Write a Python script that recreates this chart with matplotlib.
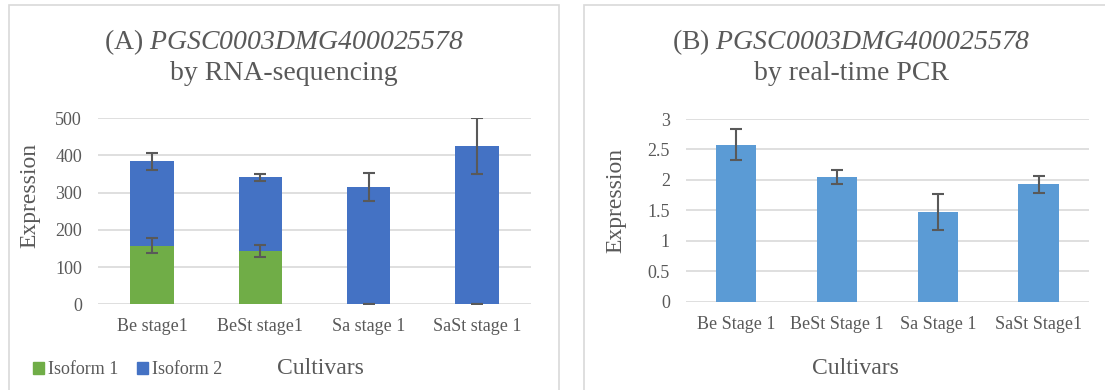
import matplotlib
matplotlib.use("Agg")
import matplotlib.pyplot as plt
from matplotlib.patches import Rectangle, Patch

plt.rcParams['font.family'] = ['Liberation Serif', 'DejaVu Serif']
# gene identifiers are set fully in italic, digits included
plt.rcParams['mathtext.fontset'] = 'custom'
plt.rcParams['mathtext.rm'] = 'Liberation Serif:italic'
plt.rcParams['mathtext.it'] = 'Liberation Serif:italic'

# Panel A: RNA-seq expression, two stacked isoforms
rna_cultivars = ["Be stage1", "BeSt stage1", "Sa stage 1", "SaSt stage 1"]
isoform1 = [158, 143, 0, 0]
isoform2 = [226, 198, 315, 426]
isoform1_err = [21, 16, 0, 0]
isoform2_err = [22, 9, 38, 76]

# Panel B: real-time PCR expression
pcr_cultivars = ["Be Stage 1", "BeSt Stage 1", "Sa Stage 1", "SaSt Stage1"]
pcr_values = [2.58, 2.05, 1.47, 1.93]
pcr_err = [0.26, 0.11, 0.30, 0.14]

GREEN = "#70AD47"
BLUE = "#4472C4"
LIGHT_BLUE = "#5B9BD5"
TEXT = "#595959"
GRID = "#D9D9D9"
ERR = "#595959"

W, H = 1105, 390
fig = plt.figure(figsize=(W / 100, H / 100), dpi=100)


def px_axes(x0, x1, ytop, ybot):
    return fig.add_axes([x0 / W, 1 - ybot / H, (x1 - x0) / W, (ybot - ytop) / H])


def style(ax, ymax, step, fmt):
    ax.set_xlim(-0.5, 3.5)
    ax.set_ylim(0, ymax)
    ticks = [i * step for i in range(int(round(ymax / step)) + 1)]
    ax.set_yticks(ticks)
    ax.set_yticklabels([fmt(t) for t in ticks])
    for s in ax.spines.values():
        s.set_visible(False)
    for t in ticks:
        ax.axhline(t, color=GRID, lw=1.2, zorder=0)
    ax.tick_params(axis='both', length=0, labelsize=13, colors=TEXT)
    ax.tick_params(axis='y', pad=11.5)
    ax.tick_params(axis='x', pad=10)
    ax.set_facecolor('none')


# panel frames
fig.add_artist(Rectangle((9 / W, -0.1), 550 / W, 1.1 - 5 / H, transform=fig.transFigure,
                         fill=False, edgecolor=GRID, lw=1.2))
fig.add_artist(Rectangle((584 / W, -0.1), 0.5, 1.1 - 5 / H, transform=fig.transFigure,
                         fill=False, edgecolor=GRID, lw=1.2))

# ---- Panel A ----
axA = px_axes(98, 531, 118.3, 304.3)
x = range(len(rna_cultivars))
stack_top = [a + b for a, b in zip(isoform1, isoform2)]
axA.bar(x, isoform1, width=0.4, color=GREEN, zorder=2)
axA.bar(x, isoform2, width=0.4, bottom=isoform1, color=BLUE, zorder=2)
axA.errorbar(x, isoform1, yerr=isoform1_err, fmt='none', ecolor=ERR,
             elinewidth=1.5, capsize=4.5, capthick=1.5, zorder=3)
axA.errorbar(x, stack_top, yerr=isoform2_err, fmt='none', ecolor=ERR,
             elinewidth=1.5, capsize=4.5, capthick=1.5, zorder=3)
style(axA, 500, 100, lambda t: f"{int(t)}")
axA.set_xticks(list(x))
axA.set_xticklabels(rna_cultivars)

fig.text(284 / W, 1 - 42.5 / H, r"(A) $PGSC0003DMG400025578$",
         ha='center', va='center', fontsize=20, color=TEXT)
fig.text(284 / W, 1 - 74 / H, "by RNA-sequencing",
         ha='center', va='center', fontsize=20, color=TEXT)
fig.text(30 / W, 1 - 196 / H, "Expression", rotation=90,
         ha='center', va='center', fontsize=17, color=TEXT)
fig.text(320 / W, 1 - 368 / H, "Cultivars",
         ha='center', va='center', fontsize=17, color=TEXT)
fig.legend(handles=[Patch(color=GREEN, label="Isoform 1"),
                    Patch(color=BLUE, label="Isoform 2")],
           loc='center left', bbox_to_anchor=(33 / W, 1 - 370 / H), ncol=2,
           frameon=False, fontsize=13, handlelength=0.6, handleheight=0.6,
           handletextpad=0.25, columnspacing=1.0, borderpad=0, borderaxespad=0,
           labelcolor=TEXT)

# ---- Panel B ----
axB = px_axes(685.8, 1089, 119, 301.7)
xb = range(len(pcr_cultivars))
axB.bar(xb, pcr_values, width=0.4, color=LIGHT_BLUE, zorder=2)
axB.errorbar(xb, pcr_values, yerr=pcr_err, fmt='none', ecolor=ERR,
             elinewidth=1.5, capsize=4.5, capthick=1.5, zorder=3)
style(axB, 3, 0.5, lambda t: f"{t:g}")
axB.set_xticks(list(xb))
axB.set_xticklabels(pcr_cultivars)

fig.text(851 / W, 1 - 42.5 / H, r"(B) $PGSC0003DMG400025578$",
         ha='center', va='center', fontsize=20, color=TEXT)
fig.text(851 / W, 1 - 74 / H, "by real-time PCR",
         ha='center', va='center', fontsize=20, color=TEXT)
fig.text(615.6 / W, 1 - 201 / H, "Expression", rotation=90,
         ha='center', va='center', fontsize=17, color=TEXT)
fig.text(855 / W, 1 - 368 / H, "Cultivars",
         ha='center', va='center', fontsize=17, color=TEXT)

fig.savefig("out.png", dpi=100, facecolor='white')
